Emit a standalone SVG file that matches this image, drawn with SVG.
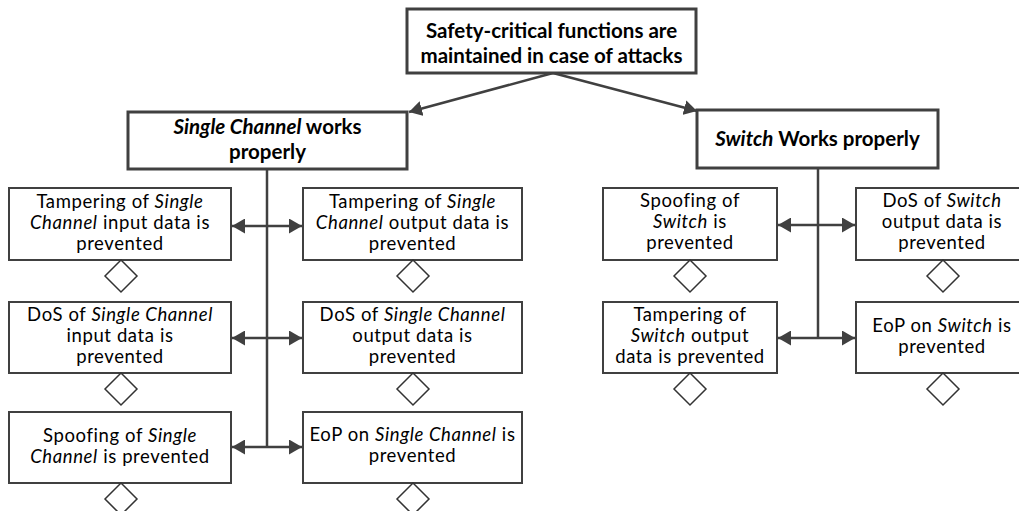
<svg xmlns="http://www.w3.org/2000/svg" width="1019" height="511" viewBox="0 0 1019 511">
  <style>
    .box { fill: #ffffff; stroke: #404040; stroke-width: 2; }
    .main { fill: #ffffff; stroke: #404040; stroke-width: 3; }
    .dia { fill: #ffffff; stroke: #333333; stroke-width: 1.5; }
    .wire { fill: none; stroke: #404040; stroke-width: 2.5; }
    text { font-family: Lato, "Liberation Sans", sans-serif; fill: #000000; text-anchor: middle; }
    .t { font-size: 18.5px; letter-spacing: 0.6px; }
    .tb { font-size: 20.5px; font-weight: bold; }
    .i { font-style: italic; }
  </style>
  <defs>
    <marker id="arrow" viewBox="0 0 13 15" refX="13" refY="7.5" markerWidth="13" markerHeight="15" markerUnits="userSpaceOnUse" orient="auto-start-reverse">
      <path d="M0,0 L13,7.5 L0,15 Z" fill="#404040"/>
    </marker>
  </defs>

  <!-- connectors -->
  <g id="connectors">
    <line class="wire" x1="553" y1="73" x2="409" y2="112" marker-end="url(#arrow)"/>
    <line class="wire" x1="553" y1="73" x2="697" y2="111" marker-end="url(#arrow)"/>
    <!-- Single Channel branch -->
    <line class="wire" x1="267" y1="169" x2="267" y2="447"/>
    <line class="wire" x1="232" y1="226" x2="302" y2="226" marker-start="url(#arrow)" marker-end="url(#arrow)"/>
    <line class="wire" x1="232" y1="338" x2="302" y2="338" marker-start="url(#arrow)" marker-end="url(#arrow)"/>
    <line class="wire" x1="232" y1="447" x2="302" y2="447" marker-start="url(#arrow)" marker-end="url(#arrow)"/>
    <!-- Switch branch -->
    <line class="wire" x1="818" y1="168" x2="818" y2="338"/>
    <line class="wire" x1="778" y1="225" x2="855" y2="225" marker-start="url(#arrow)" marker-end="url(#arrow)"/>
    <line class="wire" x1="778" y1="338" x2="855" y2="338" marker-start="url(#arrow)" marker-end="url(#arrow)"/>
  </g>

  <!-- root goal -->
  <g id="root">
    <rect class="main" x="407" y="9" width="289" height="64"/>
    <text class="tb" x="551.5" y="38">Safety-critical functions are</text>
    <text class="tb" x="551.5" y="63">maintained in case of attacks</text>
  </g>

  <g id="single-channel">
    <rect class="main" x="128" y="112" width="279" height="57"/>
    <text class="tb" x="267.5" y="134"><tspan class="i">Single Channel</tspan> works</text>
    <text class="tb" x="267.5" y="159">properly</text>
  </g>

  <g id="switch">
    <rect class="main" x="697" y="110" width="241" height="58"/>
    <text class="tb" x="817.5" y="146"><tspan class="i">Switch</tspan> Works properly</text>
  </g>

  <!-- Single Channel sub-goals -->
  <g id="sc-tampering-input">
    <rect class="box" x="9" y="188" width="222" height="72"/>
    <text class="t" x="120" y="208">Tampering of <tspan class="i">Single</tspan></text>
    <text class="t" x="120" y="229"><tspan class="i">Channel</tspan> input data is</text>
    <text class="t" x="120" y="250">prevented</text>
    <polygon class="dia" points="121,260 137,276 121,292 105,276"/>
  </g>

  <g id="sc-tampering-output">
    <rect class="box" x="303" y="188" width="219" height="72"/>
    <text class="t" x="412.5" y="208">Tampering of <tspan class="i">Single</tspan></text>
    <text class="t" x="412.5" y="229"><tspan class="i">Channel</tspan> output data is</text>
    <text class="t" x="412.5" y="250">prevented</text>
    <polygon class="dia" points="413,260 429,276 413,292 397,276"/>
  </g>

  <g id="sc-dos-input">
    <rect class="box" x="9" y="302" width="222" height="71"/>
    <text class="t" x="120" y="321">DoS of <tspan class="i">Single Channel</tspan></text>
    <text class="t" x="120" y="342">input data is</text>
    <text class="t" x="120" y="363">prevented</text>
    <polygon class="dia" points="121,373 137,389 121,405 105,389"/>
  </g>

  <g id="sc-dos-output">
    <rect class="box" x="303" y="302" width="219" height="71"/>
    <text class="t" x="412.5" y="321">DoS of <tspan class="i">Single Channel</tspan></text>
    <text class="t" x="412.5" y="342">output data is</text>
    <text class="t" x="412.5" y="363">prevented</text>
    <polygon class="dia" points="413,373 429,389 413,405 397,389"/>
  </g>

  <g id="sc-spoofing">
    <rect class="box" x="9" y="412" width="222" height="71"/>
    <text class="t" x="120" y="442">Spoofing of <tspan class="i">Single</tspan></text>
    <text class="t" x="120" y="463"><tspan class="i">Channel</tspan> is prevented</text>
    <polygon class="dia" points="121,483 137,499 121,515 105,499"/>
  </g>

  <g id="sc-eop">
    <rect class="box" x="303" y="412" width="219" height="71"/>
    <text class="t" x="412.5" y="441">EoP on <tspan class="i">Single Channel</tspan> is</text>
    <text class="t" x="412.5" y="462">prevented</text>
    <polygon class="dia" points="413,483 429,499 413,515 397,499"/>
  </g>

  <!-- Switch sub-goals -->
  <g id="sw-spoofing">
    <rect class="box" x="603" y="188" width="174" height="72"/>
    <text class="t" x="690" y="207">Spoofing of</text>
    <text class="t" x="690" y="228"><tspan class="i">Switch</tspan> is</text>
    <text class="t" x="690" y="249">prevented</text>
    <polygon class="dia" points="690,260 706,276 690,292 674,276"/>
  </g>

  <g id="sw-dos-output">
    <rect class="box" x="856" y="188" width="170" height="72"/>
    <text class="t" x="942" y="207">DoS of <tspan class="i">Switch</tspan></text>
    <text class="t" x="942" y="228">output data is</text>
    <text class="t" x="942" y="249">prevented</text>
    <polygon class="dia" points="943,260 959,276 943,292 927,276"/>
  </g>

  <g id="sw-tampering-output">
    <rect class="box" x="603" y="302" width="174" height="71"/>
    <text class="t" x="690" y="321">Tampering of</text>
    <text class="t" x="690" y="342"><tspan class="i">Switch</tspan> output</text>
    <text class="t" x="690" y="363">data is prevented</text>
    <polygon class="dia" points="690,373 706,389 690,405 674,389"/>
  </g>

  <g id="sw-eop">
    <rect class="box" x="856" y="302" width="170" height="71"/>
    <text class="t" x="942" y="332">EoP on <tspan class="i">Switch</tspan> is</text>
    <text class="t" x="942" y="353">prevented</text>
    <polygon class="dia" points="943,373 959,389 943,405 927,389"/>
  </g>
</svg>
